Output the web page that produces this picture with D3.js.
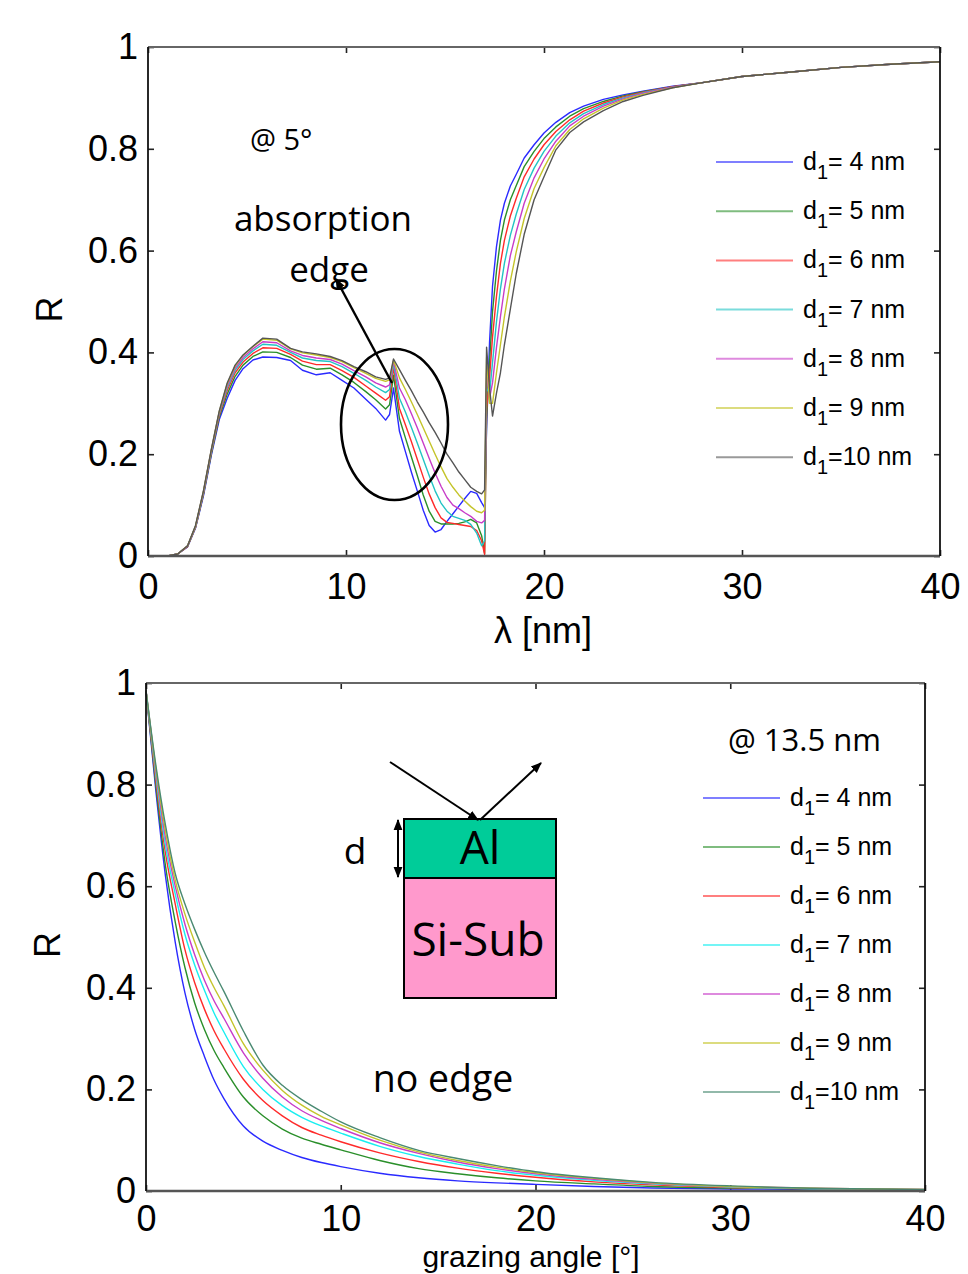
<!DOCTYPE html>
<html><head><meta charset="utf-8">
<script src="https://cdn.jsdelivr.net/npm/d3@7"></script>
<style>
body{margin:0;background:#fff;}
svg text{font-family:"Liberation Sans",Arial,Helvetica,sans-serif;fill:#000;}
.note{font-family:"Open Sans","Noto Sans",sans-serif !important;}
</style></head><body>
<svg id="fig" width="968" height="1274"></svg>
<script>
// ---------- data ----------
const thicknessNm = ["4", "5", "6", "7", "8", "9", "10"];

// Reflectance vs wavelength at 5° grazing incidence
const lambdaNm = [1.0,1.5,2.0,2.4,2.8,3.2,3.6,4.0,4.4,4.8,5.3,5.8,6.5,7.2,7.8,8.5,9.2,9.8,10.4,11.0,11.5,12.0,12.2,12.4,12.7,13.0,13.3,13.6,13.9,14.2,14.5,14.8,15.1,15.4,15.7,16.0,16.3,16.6,16.85,17.0,17.1,17.25,17.4,17.6,17.8,18.0,18.3,18.6,19.0,19.5,20.0,20.6,21.3,22.0,23.0,24.0,25.0,26.5,28.0,30.0,32.5,35.0,37.5,40.0];
const rLam_d4 = [0,.004,.018,.055,.118,.198,.268, .31,.345,.368,.385,.391,.39,.384,.365,.356,.36,.345,.33,.308,.29,.267,.278, .33,.245,.205,.165,.128,.09,.06,.047,.052,.068,.083,.098,.113,.127,.123,.105,.095, .25,.42,.53,.608,.66,.693,.727,.75,.782,.808,.831,.852,.871,.884,.897,.906,.913,.923, .93,.942,.951,.96,.966,.971];
const rLam_d5 = [0,.004,.019,.056,.121,.201,.273, .318,.353,.375,.392,.401,.400,.390,.375,.367,.369,.356,.341,.323,.307,.289,.297, .355,.27,.232,.195,.158,.12,.088,.068,.063,.063,.063,.064,.067,.072,.065,.04,.005, .27,.38,.48,.56,.62,.66,.70,.728,.765,.795,.82,.843,.864,.879,.893,.904,.912,.922, .93,.942,.951,.96,.966,.971];
const rLam_d6 = [0,.004,.019,.057,.123,.204,.277, .325,.360,.381,.398,.409,.408,.396,.383,.376,.376,.364,.351,.334,.320,.306,.313, .37,.29,.258,.225,.19,.155,.122,.095,.075,.066,.064,.062,.06,.058,.05,.03,.003, .29,.35,.43,.51,.575,.62,.668,.703,.745,.78,.808,.834,.857,.874,.89,.902,.911,.922, .93,.942,.951,.96,.966,.971];
const rLam_d7 = [0,.004,.02,.058,.125,.206,.280, .330,.365,.386,.403,.416,.414,.400,.389,.384,.382,.372,.359,.345,.332,.321,.327, .378,.31,.283,.253,.222,.19,.158,.128,.104,.088,.078,.074,.07,.062,.045,.02,.03, .33,.32,.38,.46,.525,.575,.63,.672,.72,.762,.795,.825,.851,.869,.887,.90,.91,.921, .93,.942,.951,.96,.966,.971];
const rLam_d8 = [0,.004,.02,.058,.126,.208,.282, .334,.369,.390,.407,.421,.419,.403,.394,.389,.386,.377,.364,.352,.340,.332,.336, .383,.33,.307,.28,.252,.222,.192,.163,.137,.115,.10,.093,.085,.078,.068,.065,.07, .36,.31,.34,.41,.47,.525,.59,.637,.693,.743,.78,.815,.845,.864,.884,.898,.909,.921, .93,.942,.951,.96,.966,.971];
const rLam_d9 = [0,.004,.02,.059,.127,.209,.284, .338,.373,.394,.411,.426,.424,.407,.399,.395,.390,.382,.370,.359,.349,.343,.346, .385,.35,.327,.303,.278,.252,.226,.20,.175,.152,.135,.12,.108,.097,.088,.085,.09, .39,.30,.30,.36,.415,.47,.54,.598,.663,.722,.763,.806,.838,.859,.88,.896,.907,.92, .93,.942,.951,.96,.966,.971];
const rLam_d10 = [0,.004,.02,.06,.128,.21,.285, .34,.375,.395,.412,.428,.426,.408,.401,.397,.392,.384,.372,.362,.352,.347,.35, .387,.366,.345,.325,.303,.283,.262,.243,.222,.20,.183,.165,.15,.135,.127,.122,.13, .41,.33,.275,.32,.36,.415,.485,.555,.632,.70,.745,.798,.832,.853,.875,.893,.905,.92, .93,.942,.951,.96,.966,.971];

// Reflectance vs grazing angle at 13.5 nm
const angleDeg = [0,0.5,1,1.5,2,2.5,3,3.5,4,5,6,7,8,9,10,12,14,16,18,20,23,26,30,35,40];
const rAng_d4 = [.985,.79,.62,.49,.39,.318,.265,.218,.182,.128,.098,.08,.066,.056,.048,.035,.026,.02,.016,.013,.009,.006,.004,.003,.002];
const rAng_d5 = [.985,.80,.64,.53,.44,.37,.318,.276,.243,.185,.148,.122,.104,.092,.081,.06,.044,.034,.026,.02,.014,.009,.006,.004,.002];
const rAng_d6 = [.985,.81,.665,.565,.475,.41,.358,.315,.28,.22,.178,.148,.125,.11,.097,.075,.058,.045,.035,.027,.018,.012,.007,.004,.002];
const rAng_d7 = [.985,.82,.68,.585,.505,.445,.395,.35,.313,.245,.2,.168,.145,.128,.114,.088,.068,.053,.04,.031,.021,.014,.008,.004,.002];
const rAng_d8 = [.985,.828,.695,.60,.525,.465,.415,.374,.34,.272,.222,.185,.158,.139,.123,.095,.074,.057,.044,.034,.023,.015,.009,.005,.003];
const rAng_d9 = [.985,.834,.708,.612,.545,.49,.44,.40,.365,.29,.238,.198,.169,.147,.13,.1,.077,.06,.047,.036,.025,.016,.009,.005,.003];
const rAng_d10 = [.985,.84,.72,.625,.565,.515,.47,.43,.393,.315,.248,.208,.18,.157,.136,.105,.08,.064,.05,.038,.026,.017,.01,.005,.003];

const xTickValues = [0, 10, 20, 30, 40];
const yTickValues = [0, 0.2, 0.4, 0.6, 0.8, 1];

// ---------- drawing ----------
const svg = d3.select("#fig");
const colorsTop = ["#2a2aff", "#2a8f2a", "#ff2a2a", "#22c4c4", "#c83cc8", "#c4c42a", "#555555"];
const colorsBottom = ["#2a2aff", "#2a8f2a", "#ff2a2a", "#18eef0", "#c83cc8", "#c4c42a", "#4a8a72"];

const defs = svg.append("defs");
defs.append("marker").attr("id", "head").attr("viewBox", "0 0 10 10")
  .attr("refX", 9).attr("refY", 5).attr("markerWidth", 11).attr("markerHeight", 11)
  .attr("markerUnits", "userSpaceOnUse").attr("orient", "auto-start-reverse")
  .append("path").attr("d", "M0,1 L10,5 L0,9 Z").attr("fill", "#000");

function panel(cfg) {
  const x = d3.scaleLinear().domain([0, 40]).range([cfg.left, cfg.right]);
  const y = d3.scaleLinear().domain([0, 1]).range([cfg.bottom, cfg.top]);
  const g = svg.append("g");

  const fmt = d => d === 0 ? "0" : d === 1 ? "1" : d3.format(".1f")(d);
  // axes with inward ticks on all four sides
  const axB = g.append("g").attr("transform", `translate(0,${cfg.bottom})`)
    .call(d3.axisBottom(x).tickValues(xTickValues).tickSize(-6).tickPadding(cfg.xPad).tickFormat(d3.format("d")));
  const axT = g.append("g").attr("transform", `translate(0,${cfg.top})`)
    .call(d3.axisTop(x).tickValues(xTickValues).tickSize(-6).tickFormat(""));
  const axL = g.append("g").attr("transform", `translate(${cfg.left},0)`)
    .call(d3.axisLeft(y).tickValues(yTickValues).tickSize(-6).tickPadding(10).tickFormat(fmt));
  const axR = g.append("g").attr("transform", `translate(${cfg.right},0)`)
    .call(d3.axisRight(y).tickValues(yTickValues).tickSize(-6).tickFormat(""));
  [axB, axT, axL, axR].forEach(a => {
    a.select(".domain").remove();
    a.selectAll(".tick line").attr("stroke", "#222").attr("stroke-width", 1.6);
    a.selectAll("text").attr("font-size", 36).attr("fill", "#000");
  });

  // series
  const line = d3.line().x(d => x(d[0])).y(d => y(d[1])).curve(cfg.curve);
  cfg.series.forEach((vals, i) => {
    const pts = cfg.xs.map((v, k) => [v, vals[k]]);
    g.append("path").datum(pts).attr("d", line).attr("fill", "none")
      .attr("stroke", cfg.colors[i]).attr("stroke-width", 1.4).attr("stroke-linejoin", "round");
  });

  // frame
  g.append("line").attr("x1", cfg.left).attr("x2", cfg.right).attr("y1", cfg.top).attr("y2", cfg.top)
    .attr("stroke", "#666").attr("stroke-width", 2);
  g.append("line").attr("x1", cfg.left).attr("x2", cfg.right).attr("y1", cfg.bottom).attr("y2", cfg.bottom)
    .attr("stroke", "#555").attr("stroke-width", 2.6);
  g.append("line").attr("x1", cfg.left).attr("x2", cfg.left).attr("y1", cfg.top).attr("y2", cfg.bottom)
    .attr("stroke", "#111").attr("stroke-width", 1.8);
  g.append("line").attr("x1", cfg.right).attr("x2", cfg.right).attr("y1", cfg.top).attr("y2", cfg.bottom)
    .attr("stroke", "#111").attr("stroke-width", 1.8);

  // axis titles
  g.append("text").attr("transform", `translate(${cfg.left - 86},${(cfg.top + cfg.bottom) / 2 + 8}) rotate(-90)`)
    .attr("text-anchor", "middle").attr("font-size", 36).text("R");
  g.append("text").attr("x", cfg.xTitleX).attr("y", cfg.xTitleY).attr("text-anchor", "middle")
    .attr("font-size", cfg.xTitleSize).text(cfg.xTitle);

  // legend
  const leg = g.append("g");
  thicknessNm.forEach((t, i) => {
    const yy = cfg.legY0 + i * cfg.legDy;
    leg.append("line").attr("x1", cfg.legX).attr("x2", cfg.legX + 77).attr("y1", yy).attr("y2", yy)
      .attr("stroke", cfg.colors[i]).attr("stroke-width", 2).attr("stroke-opacity", 0.6);
    const tx = leg.append("text").attr("x", cfg.legX + 87).attr("y", yy + 8).attr("font-size", 25);
    tx.append("tspan").text("d");
    tx.append("tspan").attr("font-size", 20).attr("dy", 9).text("1");
    tx.append("tspan").attr("dy", -9).text(t.length > 1 ? "=" + t + " nm" : "= " + t + " nm");
  });
  return {x, y, g};
}

const upperPanel = panel({
  left: 148, right: 940, top: 47, bottom: 556,
  xs: lambdaNm, series: [rLam_d4, rLam_d5, rLam_d6, rLam_d7, rLam_d8, rLam_d9, rLam_d10],
  colors: colorsTop, curve: d3.curveLinear, xPad: 17,
  xTitle: "λ [nm]", xTitleX: 543, xTitleY: 643, xTitleSize: 36,
  legX: 716, legY0: 162, legDy: 49.2
});

const lowerPanel = panel({
  left: 146, right: 925, top: 683, bottom: 1191,
  xs: angleDeg, series: [rAng_d4, rAng_d5, rAng_d6, rAng_d7, rAng_d8, rAng_d9, rAng_d10],
  colors: colorsBottom, curve: d3.curveMonotoneX, xPad: 14,
  xTitle: "grazing angle [°]", xTitleX: 531, xTitleY: 1267, xTitleSize: 30,
  legX: 703, legY0: 798, legDy: 49
});

// ---------- annotations, upper panel ----------
const tg = upperPanel.g;
tg.append("text").attr("class", "note").attr("x", 250).attr("y", 150).attr("font-size", 29).text("@ 5°");
tg.append("text").attr("class", "note").attr("x", 323).attr("y", 231).attr("text-anchor", "middle").attr("font-size", 35).text("absorption");
tg.append("text").attr("class", "note").attr("x", 329).attr("y", 282).attr("text-anchor", "middle").attr("font-size", 35).text("edge");
tg.append("ellipse").attr("cx", 394.5).attr("cy", 424.5).attr("rx", 53.5).attr("ry", 75.5)
  .attr("fill", "none").attr("stroke", "#000").attr("stroke-width", 2.6);
tg.append("line").attr("x1", 392).attr("y1", 383).attr("x2", 336).attr("y2", 279)
  .attr("stroke", "#000").attr("stroke-width", 2.4).attr("marker-end", "url(#head)");

// ---------- annotations, lower panel ----------
const bg = lowerPanel.g;
bg.append("text").attr("class", "note").attr("x", 728).attr("y", 751).attr("font-size", 31).text("@ 13.5 nm");
bg.append("text").attr("class", "note").attr("x", 443).attr("y", 1092).attr("text-anchor", "middle").attr("font-size", 37.5).text("no edge");
bg.append("rect").attr("x", 404).attr("y", 878).attr("width", 152).attr("height", 120)
  .attr("fill", "#ff99cc").attr("stroke", "#000").attr("stroke-width", 2);
bg.append("rect").attr("x", 404).attr("y", 819).attr("width", 152).attr("height", 59)
  .attr("fill", "#00cc99").attr("stroke", "#000").attr("stroke-width", 2);
bg.append("text").attr("class", "note").attr("x", 480).attr("y", 864).attr("text-anchor", "middle").attr("font-size", 46).text("Al");
bg.append("text").attr("class", "note").attr("x", 478).attr("y", 956).attr("text-anchor", "middle").attr("font-size", 46).text("Si-Sub");
bg.append("text").attr("class", "note").attr("x", 355).attr("y", 864).attr("text-anchor", "middle").attr("font-size", 37).text("d");
bg.append("line").attr("x1", 398).attr("y1", 820).attr("x2", 398).attr("y2", 877)
  .attr("stroke", "#000").attr("stroke-width", 2).attr("marker-start", "url(#head)").attr("marker-end", "url(#head)");
bg.append("line").attr("x1", 390).attr("y1", 762).attr("x2", 478).attr("y2", 820)
  .attr("stroke", "#000").attr("stroke-width", 2).attr("marker-end", "url(#head)");
bg.append("line").attr("x1", 480).attr("y1", 820).attr("x2", 541).attr("y2", 763)
  .attr("stroke", "#000").attr("stroke-width", 2).attr("marker-end", "url(#head)");
</script>
</body></html>
